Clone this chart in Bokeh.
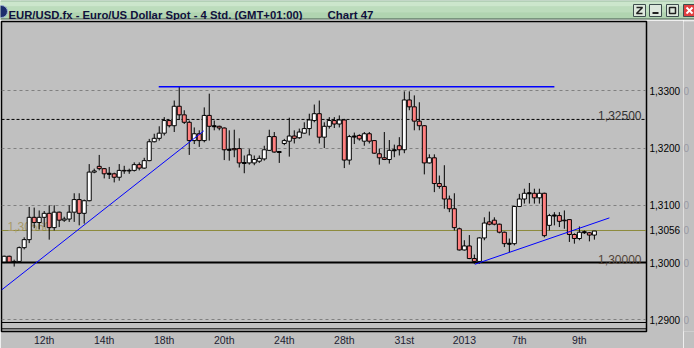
from bokeh.plotting import figure
from bokeh.layouts import column, row
from bokeh.models import Range1d, FixedTicker, CustomJSTickFormatter, Span, ColumnDataSource
from bokeh.embed import file_html
from bokeh.resources import INLINE
from bokeh.core.properties import value

# ---------------- data ----------------
TITLE = "EUR/USD.fx - Euro/US Dollar Spot - 4 Std. (GMT+01:00)"
CHART_NAME = "Chart 47"

opens = [1.3001, 1.3011, 1.3001, 1.3002, 1.3026, 1.3040, 1.3079, 1.3070, 1.3079, 1.3086,
         1.3061, 1.3088, 1.3074, 1.3076, 1.3088, 1.3110, 1.3086, 1.3108, 1.3158, 1.3168,
         1.3164, 1.3155, 1.3155, 1.3149, 1.3161, 1.3160, 1.3161, 1.3171, 1.3165, 1.3178,
         1.3211, 1.3217, 1.3226, 1.3248, 1.3239, 1.3273, 1.3258, 1.3245, 1.3213, 1.3225,
         1.3213, 1.3257, 1.3238, 1.3238, 1.3235, 1.3197, 1.3199, 1.3199, 1.3174, 1.3174,
         1.3174, 1.3177, 1.3181, 1.3196, 1.3220, 1.3193, 1.3208, 1.3212, 1.3221, 1.3218,
         1.3226, 1.3234, 1.3248, 1.3260, 1.3219, 1.3238, 1.3248, 1.3242, 1.3249, 1.3179,
         1.3220, 1.3222, 1.3212, 1.3225, 1.3213, 1.3190, 1.3183, 1.3180, 1.3196, 1.3204,
         1.3197, 1.3284, 1.3272, 1.3247, 1.3239, 1.3174, 1.3183, 1.3138, 1.3133, 1.3111,
         1.3094, 1.3059, 1.3022, 1.3029, 1.3007, 1.3002, 1.3043, 1.3071, 1.3074, 1.3067,
         1.3053, 1.3033, 1.3033, 1.3098, 1.3111, 1.3121, 1.3121, 1.3113, 1.3121, 1.3065,
         1.3082, 1.3082, 1.3074, 1.3075, 1.3049, 1.3042, 1.3053, 1.3052, 1.3048]
highs = [1.3012, 1.3012, 1.3005, 1.3028, 1.3044, 1.3097, 1.3096, 1.3091, 1.3090, 1.3100,
         1.3100, 1.3089, 1.3080, 1.3100, 1.3121, 1.3121, 1.3110, 1.3172, 1.3164, 1.3188,
         1.3165, 1.3167, 1.3157, 1.3172, 1.3169, 1.3164, 1.3175, 1.3175, 1.3183, 1.3216,
         1.3225, 1.3238, 1.3254, 1.3249, 1.3283, 1.3307, 1.3266, 1.3248, 1.3236, 1.3231,
         1.3271, 1.3295, 1.3248, 1.3239, 1.3236, 1.3231, 1.3232, 1.3217, 1.3187, 1.3198,
         1.3187, 1.3187, 1.3204, 1.3232, 1.3228, 1.3194, 1.3216, 1.3253, 1.3231, 1.3234,
         1.3245, 1.3260, 1.3276, 1.3283, 1.3245, 1.3254, 1.3254, 1.3257, 1.3251, 1.3223,
         1.3227, 1.3224, 1.3228, 1.3228, 1.3214, 1.3199, 1.3228, 1.3214, 1.3206, 1.3219,
         1.3299, 1.3299, 1.3292, 1.3280, 1.3240, 1.3189, 1.3189, 1.3152, 1.3170, 1.3117,
         1.3121, 1.3061, 1.3039, 1.3048, 1.3014, 1.3044, 1.3079, 1.3089, 1.3079, 1.3068,
         1.3054, 1.3042, 1.3099, 1.3120, 1.3129, 1.3139, 1.3129, 1.3129, 1.3122, 1.3085,
         1.3088, 1.3088, 1.3091, 1.3076, 1.3051, 1.3063, 1.3056, 1.3053, 1.3055]
lows = [1.2999, 1.3000, 1.2993, 1.3000, 1.3023, 1.3034, 1.3060, 1.3058, 1.3062, 1.3040,
        1.3056, 1.3062, 1.3071, 1.3071, 1.3071, 1.3065, 1.3068, 1.3107, 1.3156, 1.3161,
        1.3147, 1.3146, 1.3140, 1.3143, 1.3155, 1.3155, 1.3159, 1.3161, 1.3164, 1.3177,
        1.3210, 1.3213, 1.3222, 1.3236, 1.3228, 1.3249, 1.3242, 1.3188, 1.3207, 1.3202,
        1.3210, 1.3213, 1.3231, 1.3231, 1.3179, 1.3178, 1.3184, 1.3166, 1.3156, 1.3171,
        1.3170, 1.3174, 1.3178, 1.3195, 1.3192, 1.3174, 1.3205, 1.3185, 1.3208, 1.3216,
        1.3225, 1.3222, 1.3245, 1.3208, 1.3200, 1.3234, 1.3235, 1.3236, 1.3165, 1.3171,
        1.3207, 1.3213, 1.3204, 1.3208, 1.3190, 1.3171, 1.3179, 1.3173, 1.3184, 1.3187,
        1.3191, 1.3266, 1.3231, 1.3231, 1.3154, 1.3173, 1.3123, 1.3129, 1.3094, 1.3088,
        1.3056, 1.3021, 1.3021, 1.3006, 1.2998, 1.2998, 1.3039, 1.3065, 1.3065, 1.3051,
        1.3027, 1.3018, 1.3030, 1.3097, 1.3103, 1.3103, 1.3103, 1.3103, 1.3044, 1.3056,
        1.3065, 1.3062, 1.3059, 1.3036, 1.3033, 1.3039, 1.3050, 1.3037, 1.3040]
closes = [1.3011, 1.3001, 1.3002, 1.3026, 1.3040, 1.3079, 1.3070, 1.3079, 1.3086, 1.3061,
          1.3088, 1.3074, 1.3076, 1.3088, 1.3110, 1.3086, 1.3108, 1.3158, 1.3160, 1.3164,
          1.3155, 1.3155, 1.3149, 1.3161, 1.3160, 1.3161, 1.3171, 1.3165, 1.3178, 1.3211,
          1.3217, 1.3226, 1.3248, 1.3239, 1.3273, 1.3258, 1.3245, 1.3213, 1.3225, 1.3213,
          1.3257, 1.3238, 1.3238, 1.3235, 1.3197, 1.3197, 1.3197, 1.3174, 1.3174, 1.3188,
          1.3180, 1.3182, 1.3197, 1.3220, 1.3193, 1.3193, 1.3213, 1.3221, 1.3217, 1.3228,
          1.3234, 1.3249, 1.3260, 1.3219, 1.3238, 1.3248, 1.3242, 1.3249, 1.3179, 1.3220,
          1.3220, 1.3216, 1.3225, 1.3212, 1.3191, 1.3183, 1.3180, 1.3196, 1.3196, 1.3197,
          1.3284, 1.3272, 1.3247, 1.3239, 1.3174, 1.3183, 1.3138, 1.3133, 1.3111, 1.3094,
          1.3061, 1.3022, 1.3029, 1.3007, 1.3002, 1.3043, 1.3069, 1.3067, 1.3067, 1.3053,
          1.3033, 1.3033, 1.3098, 1.3111, 1.3121, 1.3121, 1.3113, 1.3121, 1.3047, 1.3082,
          1.3082, 1.3072, 1.3073, 1.3049, 1.3042, 1.3053, 1.3053, 1.3048, 1.3055]

date_ticks = [8, 20, 32, 44, 56, 68, 80, 92, 103, 115]
date_labels = ["12th", "14th", "18th", "20th", "24th", "28th", "31st", "2013", "7th", "9th"]

price_ticks = [1.29, 1.30, 1.3056, 1.31, 1.32, 1.33]
grid_levels = [1.29, 1.31, 1.32, 1.33]

resistance_level = 1.3250
support_level = 1.3000
last_price = 1.3056

top_line_x = [30.9, 110.0]
top_line_y = [1.3307, 1.3307]
trend1_x = [-0.54, 39.9]
trend1_y = [1.2952, 1.3230]
trend2_x = [94.1, 121.0]
trend2_y = [1.2997, 1.3078]

# ---------------- styles ----------------
BG = "#c0c0c0"
UP = "#ffffff"
DOWN = "#ff8080"
FONT = "Liberation Sans"

X0, X1 = -0.538, 128.42
Y0, Y1 = 1.287956, 1.342105
FRAME_H = 310
MAIN_W = 683
SIDE_W = 694 - MAIN_W

# ---------------- title bar ----------------
t = figure(width=694, height=20, x_range=Range1d(0, 694), y_range=Range1d(20, 0),
           output_backend="svg", toolbar_location=None, min_border=0,
           x_axis_location=None, y_axis_location=None, outline_line_color=None,
           background_fill_color="#b8d8b8", border_fill_color="#b8d8b8")
t.grid.visible = False
bands = [(0, 1, "#7c9c8a"), (1, 6, "#cce6cc"), (6, 12, "#bcdcbc"), (12, 18, "#b0d4b0"),
         (18, 19, "#3e5248"), (19, 20, BG)]
for b0, b1, col in bands:
    t.quad(left=0, right=694, top=b0, bottom=b1, fill_color=col, line_color=None)
t.scatter(x=[1], y=[11], size=12, marker="circle", fill_color="#1c2c6c", line_color="#9aaad0")
t.text(x=[8], y=[14.5], text=[TITLE], text_font=value(FONT), text_font_style="bold",
       text_font_size="11.3px", text_color="#10103c", text_baseline="alphabetic")
t.text(x=[327], y=[14.5], text=[CHART_NAME], text_font=value(FONT), text_font_style="bold",
       text_font_size="11.5px", text_color="#10103c", text_baseline="alphabetic")
for lft, col in [(633, "#dde8dd"), (649, "#dde8dd"), (666, "#dde8dd"), (683, "#e04040")]:
    t.quad(left=lft, right=lft + 12, top=4, bottom=16, fill_color=col, line_color="#3e4e4e")
t.multi_line(xs=[[636, 642, 636, 642]], ys=[[7, 7, 13, 13]], line_color="#202020", line_width=1.5)
t.segment(x0=[652], y0=[12.5], x1=[658], y1=[12.5], line_color="#202020", line_width=2)
t.quad(left=669, right=675, top=7, bottom=13, fill_color=None, line_color="#202020", line_width=1.5)
t.segment(x0=[686, 692], y0=[7, 7], x1=[692, 686], y1=[13, 13], line_color="white", line_width=2)

# ---------------- main chart ----------------
p = figure(width=MAIN_W, height=328, x_range=Range1d(X0, X1), y_range=Range1d(Y0, Y1),
           output_backend="svg", toolbar_location=None, y_axis_location="right",
           min_border_left=1, min_border_right=MAIN_W - 648, min_border_top=1, min_border_bottom=17,
           background_fill_color=BG, border_fill_color=BG,
           outline_line_color="black", outline_line_width=1.5)

p.xgrid.visible = False
p.ygrid.ticker = FixedTicker(ticks=grid_levels)
p.ygrid.grid_line_color = "#808080"
p.ygrid.grid_line_dash = "3 3"
p.ygrid.grid_line_width = 1

ya = p.yaxis[0]
ya.ticker = FixedTicker(ticks=price_ticks)
ya.formatter = CustomJSTickFormatter(code="return tick.toFixed(4).replace('.', ',');")
ya.major_tick_out = 0
ya.major_tick_in = 0
ya.minor_tick_out = 0
ya.minor_tick_in = 0
ya.major_label_standoff = 3
ya.axis_line_color = "black"
ya.major_label_text_font = FONT
ya.major_label_text_font_size = "10px"
ya.major_label_text_color = "black"

xa = p.xaxis[0]
xa.ticker = FixedTicker(ticks=date_ticks)
xa.major_label_overrides = {tk: lb for tk, lb in zip(date_ticks, date_labels)}
xa.major_tick_out = 0
xa.major_tick_in = 0
xa.minor_tick_out = 0
xa.minor_tick_in = 0
xa.major_label_standoff = 2
xa.axis_line_color = "black"
xa.major_label_text_font = FONT
xa.major_label_text_font_size = "10.5px"
xa.major_label_text_color = "#1c1c30"

# bottom double frame lines
px_unit = (Y1 - Y0) / FRAME_H
for off in (9.0, 2.7):
    p.add_layout(Span(location=Y0 + off * px_unit, dimension="width",
                      line_color="black", line_width=1, level="underlay"))

# level lines
p.add_layout(Span(location=resistance_level, dimension="width", line_color="black",
                  line_width=1, line_dash="3 2", level="underlay"))
p.add_layout(Span(location=last_price, dimension="width", line_color="#8c8a3c",
                  line_width=1, level="underlay"))
p.add_layout(Span(location=support_level, dimension="width", line_color="black",
                  line_width=2, level="underlay"))

def fmt5(v):
    return f"{v:.5f}".replace(".", ",")

p.text(x=[X0], y=[last_price], text=[fmt5(last_price)], x_offset=6, y_offset=-4,
       text_font=value(FONT), text_font_size="12px", text_color="#a89a68",
       text_align="left", text_baseline="alphabetic")
p.text(x=[X1], y=[resistance_level], text=[fmt5(resistance_level)], x_offset=-5, y_offset=-4,
       text_font=value(FONT), text_font_size="12px", text_color="#333333",
       text_align="right", text_baseline="alphabetic")
p.text(x=[X1], y=[support_level], text=[fmt5(support_level)], x_offset=-5, y_offset=-3,
       text_font=value(FONT), text_font_size="12px", text_color="#54463a",
       text_align="right", text_baseline="alphabetic")

# candles
idx = list(range(len(opens)))
src = ColumnDataSource(dict(
    x=idx,
    high=highs,
    low=lows,
    top=[max(o, c) for o, c in zip(opens, closes)],
    bottom=[min(o, c) for o, c in zip(opens, closes)],
    fill=[UP if c > o else DOWN for o, c in zip(opens, closes)],
))
p.segment(x0="x", y0="low", x1="x", y1="high", source=src, line_color="black", line_width=1)
p.vbar(x="x", width=0.8, top="top", bottom="bottom", source=src,
       fill_color="fill", line_color="black", line_width=1)
doji_x = [i for i, o, c in zip(idx, opens, closes) if abs(o - c) < 0.00005]
doji_y = [c for o, c in zip(opens, closes) if abs(o - c) < 0.00005]
p.segment(x0=[x - 0.4 for x in doji_x], x1=[x + 0.4 for x in doji_x], y0=doji_y, y1=doji_y,
          line_color="black", line_width=2)

# trend lines
p.line(top_line_x, top_line_y, line_color="#0000ff", line_width=1.5)
p.line(trend1_x, trend1_y, line_color="#0000ff", line_width=1)
p.line(trend2_x, trend2_y, line_color="#0000ff", line_width=1)

# ---------------- trailing faded digit of the price scale ----------------
s = figure(width=SIDE_W, height=328, x_range=Range1d(0, SIDE_W), y_range=p.y_range,
           output_backend="svg", toolbar_location=None, x_axis_location=None, y_axis_location=None,
           min_border_left=0, min_border_right=0, min_border_top=1, min_border_bottom=17,
           background_fill_color=BG, border_fill_color=BG, outline_line_color=None)
s.grid.visible = False
s.text(x=[0] * len(price_ticks), y=price_ticks, text=["0"] * len(price_ticks),
       text_font=value(FONT), text_font_size="10px", text_color="#9a9aa4",
       text_align="left", text_baseline="middle")

layout = column(t, row(p, s, spacing=0), spacing=0)
open("out.html", "w").write(file_html(layout, INLINE))
